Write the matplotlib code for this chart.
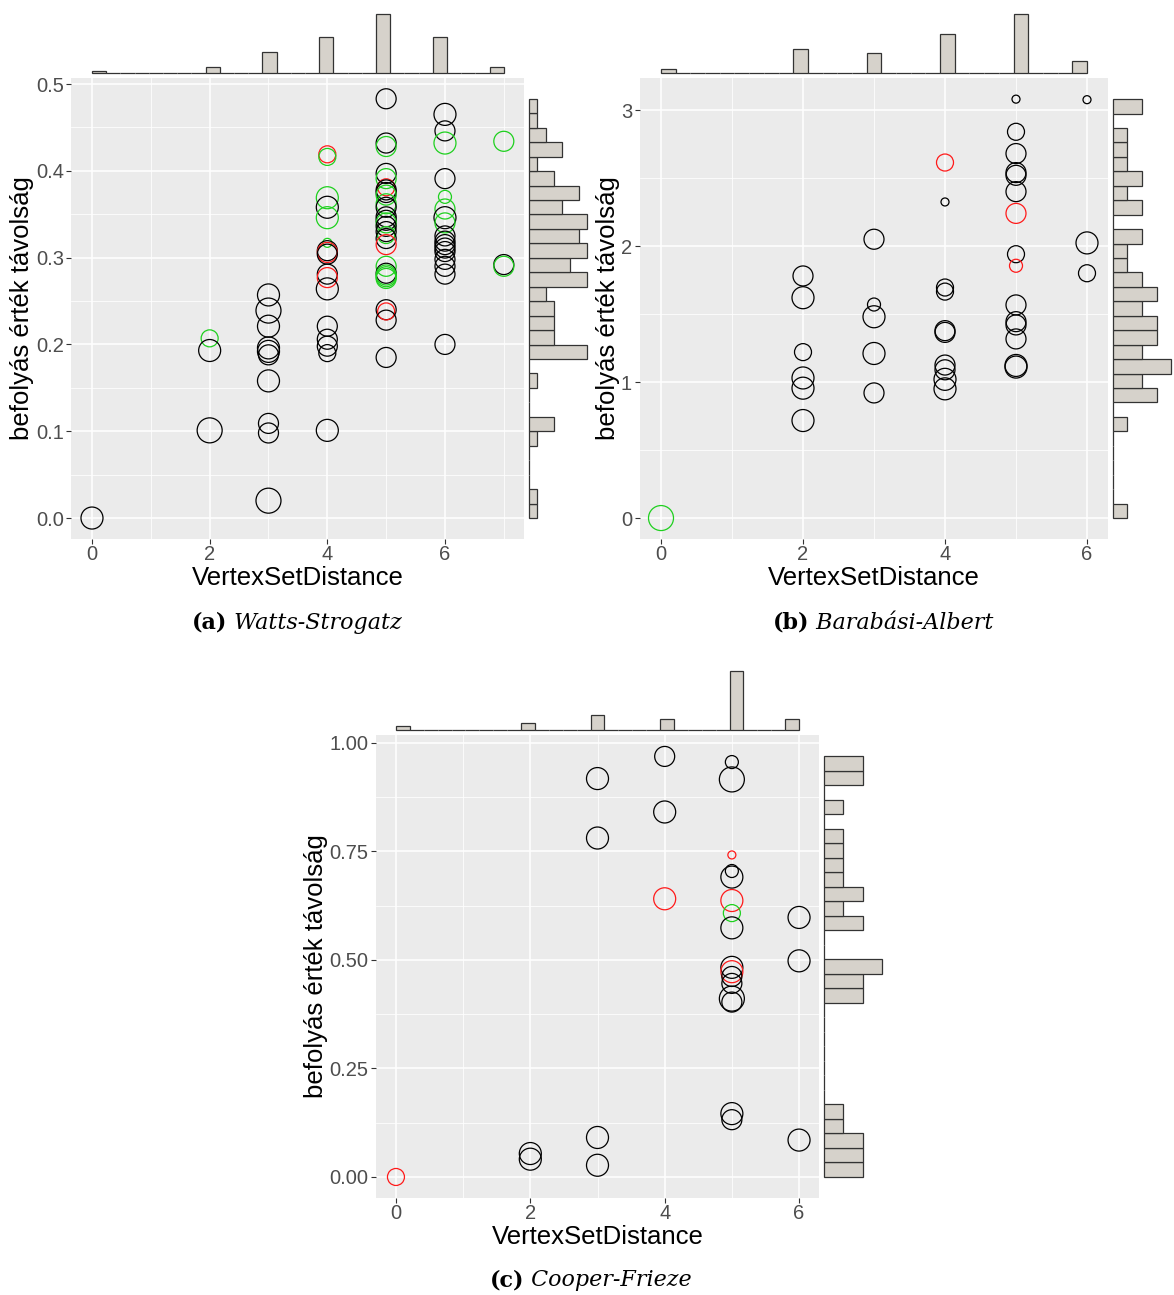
import numpy as np
import matplotlib
matplotlib.use("Agg")
import matplotlib.pyplot as plt
from matplotlib.ticker import FixedLocator, NullFormatter

W, H = 1174, 1295

# Watts-Strogatz
ws_x = [0,
        2, 2, 2,
        3, 3, 3, 3, 3, 3, 3, 3, 3, 3,
        4, 4, 4, 4, 4, 4, 4, 4, 4, 4, 4, 4, 4, 4, 4, 4, 4,
        5, 5, 5, 5, 5, 5, 5, 5, 5, 5, 5, 5, 5, 5, 5, 5, 5, 5, 5, 5, 5, 5, 5, 5, 5, 5, 5, 5,
        6, 6, 6, 6, 6, 6, 6, 6, 6, 6, 6, 6, 6, 6, 6, 6, 6,
        7, 7, 7]
ws_y = [0.000,
        0.207, 0.193, 0.101,
        0.257, 0.239, 0.221, 0.196, 0.192, 0.188, 0.158, 0.109, 0.098, 0.020,
        0.419, 0.416, 0.369, 0.358, 0.346, 0.317, 0.308, 0.306, 0.304, 0.281, 0.277, 0.264, 0.221, 0.206,
        0.198, 0.190, 0.101,
        0.483, 0.432, 0.428, 0.397, 0.391, 0.381, 0.378, 0.375, 0.372, 0.362, 0.358, 0.347, 0.343, 0.340,
        0.336, 0.330, 0.326, 0.322, 0.315, 0.290, 0.282, 0.280, 0.278, 0.276, 0.240, 0.238, 0.228,
        0.185,
        0.465, 0.446, 0.432, 0.391, 0.370, 0.356, 0.346, 0.340, 0.325, 0.319, 0.315, 0.311, 0.307, 0.298,
        0.290, 0.281, 0.200,
        0.434, 0.292, 0.290]
ws_grp = ["k",
          "g", "k", "k",
          "k", "k", "k", "k", "k", "k", "k", "k", "k", "k",
          "r", "g", "g", "k", "g", "g", "k", "r", "k", "k", "r", "k", "k", "k", "k", "k", "k",
          "k", "k", "g", "k", "g", "r", "k", "k", "g", "g", "k", "k", "k", "g", "k", "k", "g", "k", "r",
          "g", "k", "g", "g", "g", "k", "r", "k", "k",
          "k", "k", "g", "k", "g", "g", "k", "g", "k", "k", "k", "k", "k", "k", "k", "k", "k",
          "g", "k", "g"]
ws_lvl = [5,
          3, 5, 6,
          5, 6, 5, 5, 5, 4, 5, 4, 4, 6,
          3, 3, 5, 5, 5, 1, 4, 4, 4, 4, 4, 5, 4, 4, 4, 3, 5,
          4, 4, 4, 4, 4, 3, 4, 4, 4, 4, 4, 4, 4, 4, 4, 4, 3, 4, 4, 4, 4, 4, 4, 4, 4, 3, 4, 4,
          5, 4, 5, 4, 2, 4, 5, 4, 4, 4, 4, 4, 4, 4, 4, 4, 4,
          4, 4, 4]

# Barabasi-Albert
ba_x = [0,
        2, 2, 2, 2, 2, 2,
        3, 3, 3, 3, 3,
        4, 4, 4, 4, 4, 4, 4, 4, 4, 4,
        5, 5, 5, 5, 5, 5, 5, 5, 5, 5, 5, 5, 5, 5, 5,
        6, 6, 6]
ba_y = [0.0,
        1.78, 1.62, 1.22, 1.03, 0.955, 0.717,
        2.05, 1.57, 1.48, 1.21, 0.92,
        2.614, 2.324, 1.695, 1.665, 1.378, 1.365, 1.125, 1.09, 1.02, 0.95,
        3.08, 2.84, 2.68, 2.54, 2.52, 2.40, 2.24, 1.94, 1.855, 1.567, 1.444, 1.42, 1.317, 1.122, 1.11,
        3.076, 2.023, 1.80]
ba_grp = ["g",
          "k", "k", "k", "k", "k", "k",
          "k", "k", "k", "k", "k",
          "r", "k", "k", "k", "k", "k", "k", "k", "k", "k",
          "k", "k", "k", "k", "k", "k", "r", "k", "r", "k", "k", "k", "k", "k", "k",
          "k", "k", "k"]
ba_lvl = [6,
          4, 5, 3, 5, 5, 5,
          4, 2, 5, 5, 4,
          3, 0, 3, 3, 4, 4, 4, 4, 5, 5,
          0, 3, 4, 4, 4, 4, 4, 3, 2, 4, 4, 4, 4, 5, 5,
          0, 5, 3]

# Cooper-Frieze
cf_x = [0,
        2, 2,
        3, 3, 3, 3,
        4, 4, 4,
        5, 5, 5, 5, 5, 5, 5, 5, 5, 5, 5, 5, 5, 5, 5, 5,
        6, 6, 6]
cf_y = [0.0,
        0.054, 0.041,
        0.918, 0.781, 0.091, 0.027,
        0.969, 0.841, 0.641,
        0.956, 0.916, 0.742, 0.705, 0.691, 0.637, 0.608, 0.574, 0.483, 0.473, 0.462, 0.446, 0.411,
        0.403, 0.146, 0.132,
        0.598, 0.498, 0.085]
cf_grp = ["r",
          "k", "k",
          "k", "k", "k", "k",
          "k", "k", "r",
          "k", "k", "r", "k", "k", "r", "g", "k", "k", "r", "k", "k", "k", "k", "k", "k",
          "k", "k", "k"]
cf_lvl = [3,
          5, 5,
          5, 5, 5, 5,
          4, 5, 5,
          2, 6, 0, 2, 5, 5, 3, 5, 5, 5, 4, 4, 6, 4, 5, 4,
          5, 5, 5]

colors = {"k": "#000000", "r": "#FF1A1A", "g": "#1ED01E"}
diam = {0: 8, 1: 9, 2: 13, 3: 17, 4: 20, 5: 22, 6: 25}

TICK_COL = "#4D4D4D"
BAR_FILL = "#D6D2CB"
BAR_EDGE = "#333333"

fig = plt.figure(figsize=(W / 100, H / 100), dpi=100)
plt.rcParams["font.family"] = ["Liberation Sans", "DejaVu Sans"]


def box(l, t, r, b):
    return [l / W, 1 - b / H, (r - l) / W, (b - t) / H]


def hist_counts(v):
    counts, edges = np.histogram(v, bins=29, range=(min(v), max(v)))
    return counts, edges


def panel(main, top, side, xs, ys, grp, lvl, xlim, ylim, yticks, ylabels,
          xminor, yminor, ylab_x, ylab_y):
    ax = fig.add_axes(box(*main))
    ax.set_facecolor("#EBEBEB")
    for s in ax.spines.values():
        s.set_visible(False)
    ax.set_xlim(*xlim)
    ax.set_ylim(*ylim)
    ax.xaxis.set_major_locator(FixedLocator([0, 2, 4, 6]))
    ax.xaxis.set_minor_locator(FixedLocator(xminor))
    ax.yaxis.set_major_locator(FixedLocator(yticks))
    ax.yaxis.set_minor_locator(FixedLocator(yminor))
    ax.set_yticklabels(ylabels)
    ax.xaxis.set_minor_formatter(NullFormatter())
    ax.yaxis.set_minor_formatter(NullFormatter())
    ax.grid(which="major", color="white", lw=1.1)
    ax.grid(which="minor", color="white", lw=0.55)
    ax.set_axisbelow(True)
    ax.tick_params(which="major", length=3.5, width=0.8, color="#333333",
                   labelsize=14.5, labelcolor=TICK_COL, pad=2)
    ax.tick_params(axis="x", which="major", pad=1)
    ax.tick_params(which="minor", length=0)
    ax.set_xlabel("VertexSetDistance", fontsize=18.5, labelpad=1)

    sizes = [(diam[v] * 0.72) ** 2 for v in lvl]
    cols = [colors[g] for g in grp]
    ax.scatter(xs, ys, s=sizes, facecolors="none", edgecolors=cols,
               linewidths=0.9, zorder=3)

    fig.text(ylab_x / W, 1 - ylab_y / H, "befolyás érték távolság",
             rotation=90, ha="center", va="center", fontsize=18.5)

    # marginal histogram of the x values
    axt = fig.add_axes(box(*top))
    cnt, edg = hist_counts(xs)
    axt.bar(edg[:-1], cnt, width=np.diff(edg), align="edge",
            color=BAR_FILL, edgecolor=BAR_EDGE, linewidth=0.9)
    axt.set_xlim(*xlim)
    axt.set_ylim(-0.05 * cnt.max(), 1.05 * cnt.max())
    axt.axis("off")

    # marginal histogram of the y values
    axs = fig.add_axes(box(*side))
    cnt, edg = hist_counts(ys)
    axs.barh(edg[:-1], cnt, height=np.diff(edg), align="edge",
             color=BAR_FILL, edgecolor=BAR_EDGE, linewidth=0.9)
    axs.set_ylim(*ylim)
    axs.set_xlim(-0.05 * cnt.max(), 1.05 * cnt.max())
    axs.axis("off")
    return ax


panel((71.4, 77.8, 524.4, 539), (71.4, 11, 524.4, 76), (526, 77.8, 590, 539),
      ws_x, ws_y, ws_grp, ws_lvl, (-0.35, 7.35), (-0.02415, 0.50715),
      [0, 0.1, 0.2, 0.3, 0.4, 0.5], ["0.0", "0.1", "0.2", "0.3", "0.4", "0.5"],
      [1, 3, 5, 7], [0.05, 0.15, 0.25, 0.35, 0.45], 22, 308)

panel((639.7, 78.2, 1108.3, 539), (639.7, 11, 1108.3, 76), (1110, 78.2, 1174, 539),
      ba_x, ba_y, ba_grp, ba_lvl, (-0.3, 6.3), (-0.154, 3.234),
      [0, 1, 2, 3], ["0", "1", "2", "3"],
      [1, 3, 5], [0.5, 1.5, 2.5], 608, 308)

panel((375.8, 735.4, 819.2, 1198), (375.8, 668, 819.2, 733), (821, 735.4, 885, 1198),
      cf_x, cf_y, cf_grp, cf_lvl, (-0.3, 6.3), (-0.04845, 1.01745),
      [0, 0.25, 0.5, 0.75, 1.0], ["0.00", "0.25", "0.50", "0.75", "1.00"],
      [1, 3, 5], [0.125, 0.375, 0.625, 0.875], 316, 966)


def caption(cx, cy, tag, name):
    r = fig.canvas.get_renderer()
    t1 = fig.text(0, 1 - cy / H, tag, fontweight="bold", fontsize=16,
                  family="DejaVu Serif", va="center", ha="left")
    t2 = fig.text(0, 1 - cy / H, " " + name, style="italic", fontsize=16,
                  family="DejaVu Serif", va="center", ha="left")
    w1 = t1.get_window_extent(r).width
    w2 = t2.get_window_extent(r).width
    x0 = cx - (w1 + w2) / 2
    t1.set_x(x0 / W)
    t2.set_x((x0 + w1) / W)


caption(297, 623, "(a)", "Watts-Strogatz")
caption(883, 623, "(b)", "Barabási-Albert")
caption(591, 1280, "(c)", "Cooper-Frieze")

fig.savefig("out.png", dpi=100)
